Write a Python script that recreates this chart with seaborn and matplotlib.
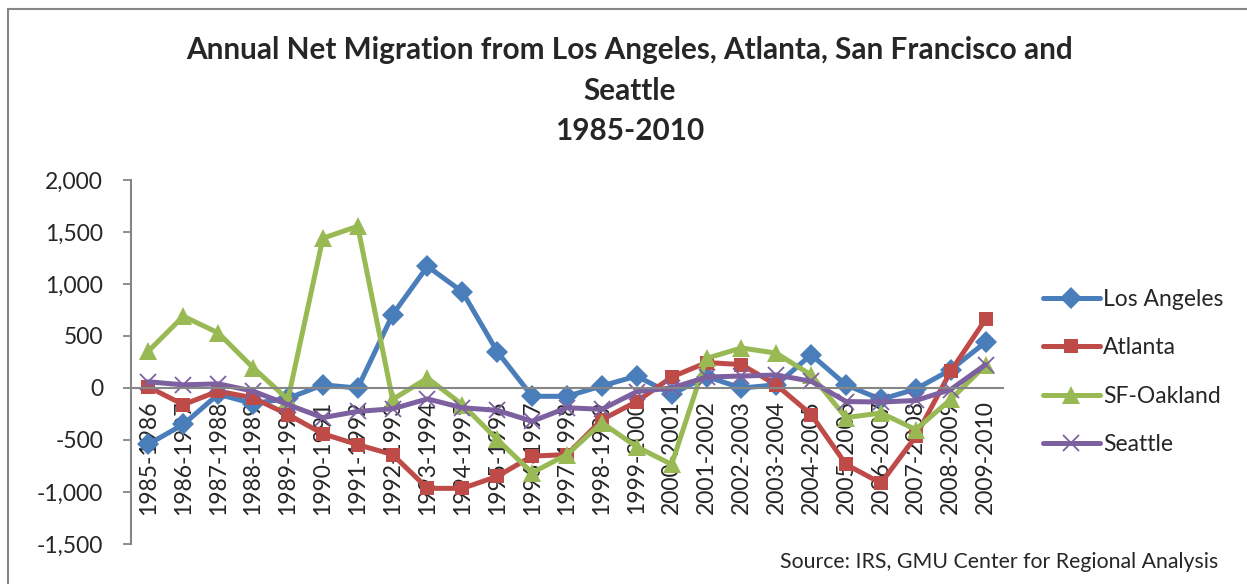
import numpy as np
import pandas as pd
import seaborn as sns
import matplotlib.pyplot as plt
from matplotlib.patches import Rectangle
from matplotlib.ticker import FuncFormatter, MultipleLocator

# Data
periods = [f"{y}-{y + 1}" for y in range(1985, 2010)]

los_angeles = [-540, -350, -60, -150, -100, 30, 0, 705, 1170, 925, 350,
               -80, -80, 20, 115, -60, 110, 0, 30, 320, 30, -110, -10, 175, 440]
atlanta = [10, -160, -30, -95, -255, -440, -545, -640, -965, -965, -850,
           -655, -640, -305, -130, 105, 245, 225, 30, -255, -735, -915, -465, 160, 660]
sf_oakland = [355, 690, 530, 195, -110, 1440, 1555, -110, 95, -160, -495,
              -815, -640, -335, -565, -735, 285, 385, 335, 125, -285, -240, -400, -110, 220]
seattle = [60, 30, 40, -30, -160, -285, -225, -200, -105, -190, -215,
           -320, -190, -205, -35, 0, 105, 115, 125, 65, -130, -135, -120, -15, 225]

cities = ["Los Angeles", "Atlanta", "SF-Oakland", "Seattle"]
values = [los_angeles, atlanta, sf_oakland, seattle]

df = pd.DataFrame({
    "Period": np.tile(np.arange(len(periods)), len(cities)),
    "City": np.repeat(cities, len(periods)),
    "Migration": np.concatenate(values),
})

colors = {"Los Angeles": "#4A7EBB", "Atlanta": "#BE4B48",
          "SF-Oakland": "#98B954", "Seattle": "#7D60A0"}
markers = {"Los Angeles": "D", "Atlanta": "s", "SF-Oakland": "^", "Seattle": "x"}
msizes = {"Los Angeles": 11.5, "Atlanta": 10.5, "SF-Oakland": 13, "Seattle": 11}

sns.set_style("white")
plt.rcParams["font.family"] = ["Lato", "DejaVu Sans"]

fig = plt.figure(figsize=(12.47, 5.84), dpi=100)
ax = fig.add_axes([131 / 1247, 1 - 544 / 584, (1003 - 131) / 1247, (544 - 180) / 584])

# chart area border
fig.patches.append(Rectangle((8 / 1247, -0.05), 1.1, 1 - 9 / 584 + 0.05,
                             transform=fig.transFigure, fill=False,
                             edgecolor="#868686", linewidth=1.5))

for city in cities:
    sub = df[df["City"] == city]
    sns.lineplot(data=sub, x="Period", y="Migration", ax=ax, label=city,
                 color=colors[city], linewidth=3.6, marker=markers[city],
                 markersize=msizes[city], markeredgewidth=1.3 if city == "Seattle" else 0,
                 markeredgecolor=colors[city])

# category axis crosses at zero (set before tick styling, it resets ticks)
for side in ["top", "right"]:
    ax.spines[side].set_visible(False)
ax.spines["bottom"].set_position(("data", 0))
for side in ["left", "bottom"]:
    ax.spines[side].set_color("#868686")
    ax.spines[side].set_linewidth(1.5)

ax.set_xlim(-0.5, len(periods) - 0.5)
ax.set_ylim(-1500, 2000)
ax.yaxis.set_major_locator(MultipleLocator(500))
ax.yaxis.set_major_formatter(FuncFormatter(lambda v, p: f"{int(v):,}"))
ax.set_xticks(np.arange(len(periods)))
ax.set_xticklabels(periods, rotation=90, fontsize=16.5)
ax.set_xticks(np.arange(len(periods) + 1) - 0.5, minor=True)
ax.tick_params(axis="x", which="major", length=0, pad=9)
ax.tick_params(axis="x", which="minor", length=6, width=1.3, color="#868686", direction="out")
ax.tick_params(axis="y", length=6, width=1.3, color="#868686", direction="out",
               left=True, labelsize=16.5, pad=14)
ax.set_xlabel("")
ax.set_ylabel("")

ax.legend(loc="upper left", bbox_to_anchor=(1022 / 1247, 1 - 268 / 584),
          bbox_transform=fig.transFigure, frameon=False, fontsize=16.5,
          handlelength=2.5, handletextpad=0.15, labelspacing=1.2)

fig.text(630 / 1247, 1 - 36 / 584,
         "Annual Net Migration from Los Angeles, Atlanta, San Francisco and\nSeattle\n1985-2010",
         ha="center", va="top", fontsize=21.4, fontweight="bold", linespacing=1.55)
fig.text(1218 / 1247, 1 - 562 / 584, "Source: IRS, GMU Center for Regional Analysis",
         ha="right", va="center", fontsize=15.3)

fig.savefig("out.png", dpi=100)
